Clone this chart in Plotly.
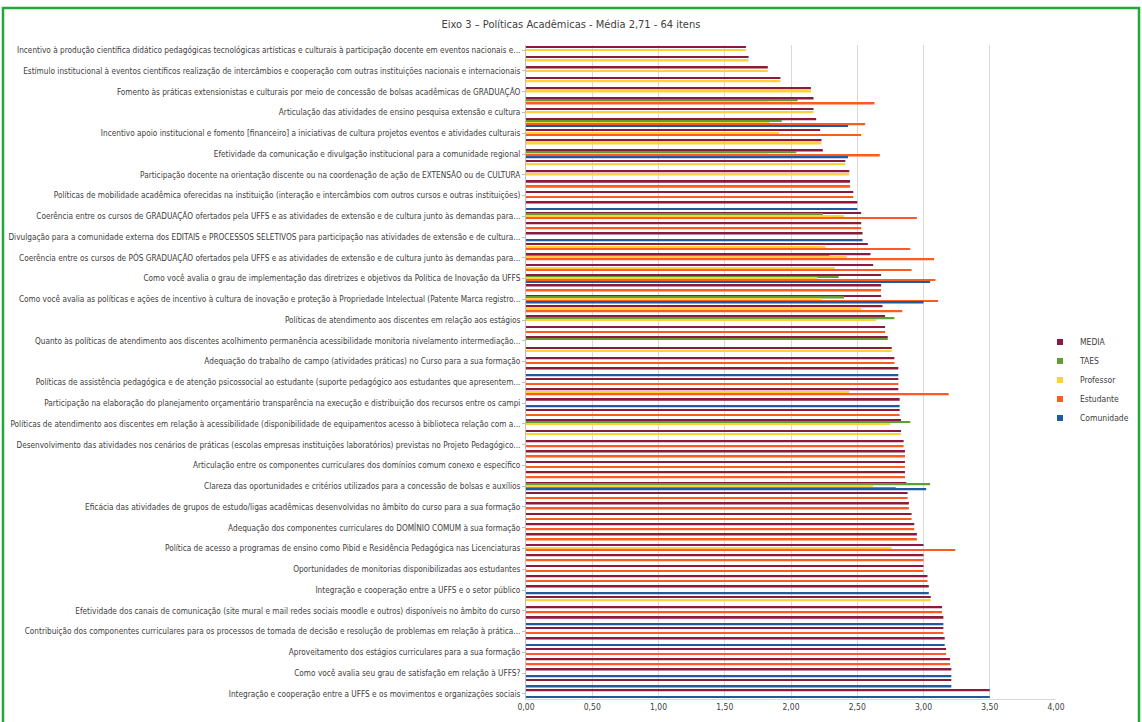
import plotly.graph_objects as go

TITLE = "Eixo 3 – Políticas Acadêmicas - Média 2,71 - 64 itens"

# Labels shown on the axis (every other item, top to bottom)
LABELS = [
    "Incentivo à produção científica didático pedagógicas tecnológicas artísticas e culturais à participação docente em eventos nacionais e...",
    "Estímulo institucional à eventos científicos realização de intercâmbios e cooperação com outras instituições nacionais e internacionais",
    "Fomento às práticas extensionistas e culturais por meio de concessão de bolsas acadêmicas de GRADUAÇÃO",
    "Articulação das atividades de ensino pesquisa extensão e cultura",
    "Incentivo apoio institucional e fomento [financeiro] a iniciativas de cultura projetos eventos e atividades culturais",
    "Efetividade da comunicação e divulgação institucional para a comunidade regional",
    "Participação docente na orientação discente ou na coordenação de ação de EXTENSÃO ou de CULTURA",
    "Políticas de mobilidade acadêmica oferecidas na instituição (interação e intercâmbios com outros cursos e outras instituições)",
    "Coerência entre os cursos de GRADUAÇÃO ofertados pela UFFS e as atividades de extensão e de cultura junto às demandas para...",
    "Divulgação para a comunidade externa dos EDITAIS e PROCESSOS SELETIVOS para participação nas atividades de extensão e de cultura...",
    "Coerência entre os cursos de PÓS GRADUAÇÃO ofertados pela UFFS e as atividades de extensão e de cultura junto às demandas para...",
    "Como você avalia o grau de implementação das diretrizes e objetivos da Política de Inovação da UFFS",
    "Como você avalia as políticas e ações de incentivo à cultura de inovação e proteção à Propriedade Intelectual (Patente Marca registro...",
    "Políticas de atendimento aos discentes em relação aos estágios",
    "Quanto às políticas de atendimento aos discentes acolhimento permanência acessibilidade monitoria nivelamento intermediação...",
    "Adequação do trabalho de campo (atividades práticas) no Curso para a sua formação",
    "Políticas de assistência pedagógica e de atenção psicossocial ao estudante (suporte pedagógico aos estudantes que apresentem...",
    "Participação na elaboração do planejamento orçamentário transparência na execução e distribuição dos recursos entre os campi",
    "Políticas de atendimento aos discentes em relação à acessibilidade (disponibilidade de equipamentos acesso à biblioteca relação com a...",
    "Desenvolvimento das atividades nos cenários de práticas (escolas empresas instituições laboratórios) previstas no Projeto Pedagógico...",
    "Articulação entre os componentes curriculares dos domínios comum conexo e específico",
    "Clareza das oportunidades e critérios utilizados para a concessão de bolsas e auxílios",
    "Eficácia das atividades de grupos de estudo/ligas acadêmicas desenvolvidas no âmbito do curso para a sua formação",
    "Adequação dos componentes curriculares do DOMÍNIO COMUM à sua formação",
    "Política de acesso a programas de ensino como Pibid e Residência Pedagógica nas Licenciaturas",
    "Oportunidades de monitorias disponibilizadas aos estudantes",
    "Integração e cooperação entre a UFFS e o setor público",
    "Efetividade dos canais de comunicação (site mural e mail redes sociais moodle e outros) disponíveis no âmbito do curso",
    "Contribuição dos componentes curriculares para os processos de tomada de decisão e resolução de problemas em relação à prática...",
    "Aproveitamento dos estágios curriculares para a sua formação",
    "Como você avalia seu grau de satisfação em relação à UFFS?",
    "Integração e cooperação entre a UFFS e os movimentos e organizações sociais",
]

N = None
# Values per item, top to bottom
MEDIA = [1.66, 1.68, 1.825, 1.92, 2.15, 2.17, 2.17, 2.19, 2.22, 2.23,
         2.24, 2.41, 2.44, 2.445, 2.47, 2.50, 2.53, 2.53, 2.54, 2.58,
         2.60, 2.62, 2.68, 2.68, 2.68, 2.69, 2.71, 2.71, 2.73, 2.76,
         2.78, 2.81, 2.81, 2.81, 2.82, 2.82, 2.83, 2.83, 2.85, 2.86,
         2.86, 2.86, 2.87, 2.88, 2.89, 2.91, 2.93, 2.95, 3.00, 3.00,
         3.00, 3.03, 3.04, 3.055, 3.14, 3.15, 3.15, 3.16, 3.17, 3.20,
         3.21, 3.21, 3.50]
TAES = [N, N, N, N, N, 2.05, N, 1.93, N, N,
        2.04, N, N, N, N, N, 2.24, N, N, N,
        2.29, N, 2.36, N, 2.40, N, 2.78, N, 2.73, N,
        N, N, N, N, N, N, 2.90, N, N, N,
        N, N, 3.05, N, N, N, N, N, N, N,
        N, N, N, N, N, N, N, N, N, N,
        N, N, N]
PROFESSOR = [1.66, 1.68, 1.825, 1.92, 2.15, 1.83, 2.17, 1.84, 1.91, 2.23,
             1.825, 2.41, 2.44, N, N, N, 2.40, N, N, 2.26,
             2.42, 2.33, 2.20, N, 2.23, 2.53, 2.64, N, N, 2.76,
             N, N, N, 2.44, N, N, 2.75, 2.83, N, N,
             N, N, 2.62, N, N, N, N, N, 2.76, N,
             N, N, N, 3.055, N, N, N, N, N, N,
             N, N, N]
ESTUDANTE = [N, N, N, N, N, 2.63, N, 2.56, 2.53, N,
             2.67, N, N, 2.445, 2.47, N, 2.95, 2.53, N, 2.90,
             3.08, 2.91, 3.09, 2.68, 3.11, 2.84, N, 2.71, N, N,
             2.78, N, 2.81, 3.19, N, 2.82, N, N, 2.85, 2.86,
             2.86, 2.86, 2.79, 2.88, 2.89, 2.91, 2.93, 2.95, 3.24, 3.00,
             3.00, 3.03, N, N, 3.14, N, 3.15, N, 3.17, 3.20,
             N, N, N]
COMUNIDADE = [N, N, N, N, N, N, N, 2.43, N, N,
              2.43, N, N, N, N, 2.50, N, N, 2.54, N,
              N, N, 3.05, N, 3.00, N, N, N, N, N,
              N, 2.81, N, N, 2.82, N, N, N, N, N,
              N, N, 3.02, N, N, N, N, N, N, N,
              N, N, 3.04, N, N, 3.15, N, 3.16, N, N,
              3.21, 3.21, 3.50]

SERIES = [
    ("MEDIA", MEDIA, "#8B1A3C"),
    ("TAES", TAES, "#5E9E32"),
    ("Professor", PROFESSOR, "#FFD23A"),
    ("Estudante", ESTUDANTE, "#FF5A1F"),
    ("Comunidade", COMUNIDADE, "#1F5C9E"),
]

positions = list(range(len(MEDIA)))

fig = go.Figure()
for name, vals, col in SERIES:
    fig.add_trace(go.Bar(
        x=vals, y=positions, orientation="h", name=name, showlegend=False,
        marker=dict(color=col, line=dict(width=0)),
    ))
# legend-only entries with small square keys
for name, vals, col in SERIES:
    fig.add_trace(go.Scatter(
        x=[None], y=[None], mode="markers", name=name,
        marker=dict(symbol="square", size=6, color=col),
    ))

FONT = "Liberation Sans Narrow, DejaVu Sans Condensed, Liberation Sans, sans-serif"

L, R, T, B = 526, 86, 45, 23
W, H = 1142, 722
pw = W - L - R
ph = H - T - B


def px2paperx(px):
    return (px - L) / pw


def py2papery(py):
    return (H - B - py) / ph


fig.update_layout(
    width=W, height=H,
    margin=dict(l=L, r=R, t=T, b=B, autoexpand=False),
    paper_bgcolor="white", plot_bgcolor="white",
    separators=",.",
    barmode="group", bargap=0.2, bargroupgap=0.0,
    title=dict(text=TITLE, x=0.5, xanchor="center", y=1 - 24 / H, yanchor="middle",
               font=dict(family=FONT, size=11, color="#404040")),
    font=dict(family=FONT, size=8.2, color="#404040"),
    xaxis=dict(range=[0, 4], dtick=0.5, tickformat=".2f", showgrid=True,
               gridcolor="#D9D9D9", gridwidth=1, zeroline=False,
               showline=True, linecolor="#D9D9D9", ticks="",
               tickfont=dict(size=8.5, color="#404040")),
    yaxis=dict(range=[len(MEDIA) - 0.5, -0.5],
               tickmode="array",
               tickvals=[2 * i for i in range(len(LABELS))],
               ticktext=LABELS, showgrid=False, zeroline=False,
               showline=True, linecolor="#BFBFBF",
               ticks="outside", ticklen=3, tickcolor="#BFBFBF",
               tickfont=dict(size=8.2, color="#404040")),
    legend=dict(x=px2paperx(1040), y=py2papery(380), xanchor="left", yanchor="middle",
                font=dict(size=8.5, color="#404040"), bgcolor="rgba(0,0,0,0)",
                itemwidth=30, tracegroupgap=0),
    showlegend=True,
)

fig.add_shape(type="rect", xref="paper", yref="paper",
              x0=px2paperx(3), x1=px2paperx(1139),
              y0=py2papery(740), y1=py2papery(8),
              line=dict(color="#22A83A", width=2.5), fillcolor="rgba(0,0,0,0)",
              layer="below")

fig.write_html("out.html", config={"displayModeBar": False},
               post_script="document.body.style.margin='0px';")
